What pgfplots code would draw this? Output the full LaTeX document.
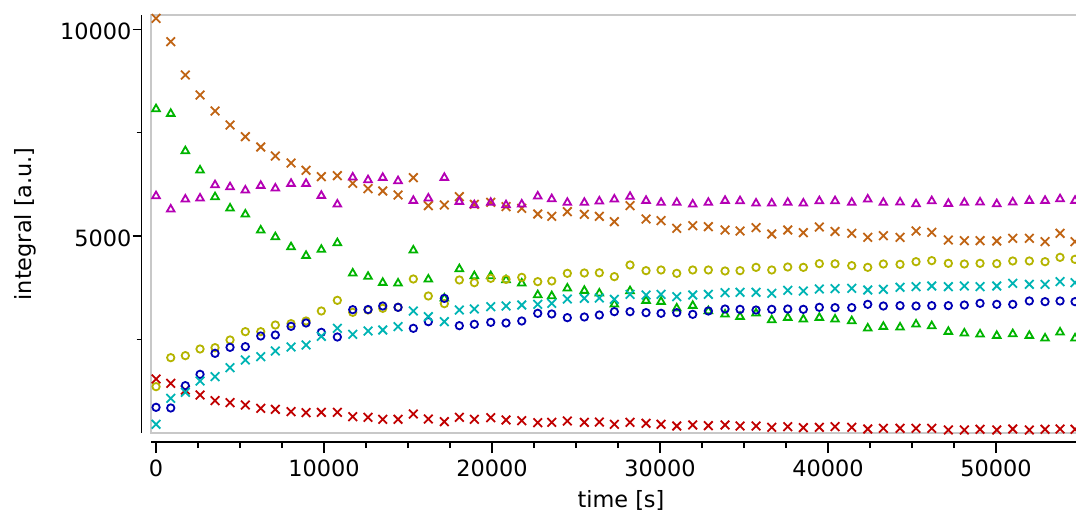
\documentclass[border=0pt]{standalone}
\usepackage{fontspec}
\setmainfont{DejaVu Sans}
\usepackage{pgfplots}
\usepackage{pgfplotstable}
\pgfplotsset{compat=1.18}

\definecolor{cred}{HTML}{C00000}
\definecolor{corange}{HTML}{C06414}
\definecolor{cmag}{HTML}{B400B4}
\definecolor{cgreen}{HTML}{00B400}
\definecolor{cyel}{HTML}{B4B400}
\definecolor{cblue}{HTML}{0000B4}
\definecolor{ccyan}{HTML}{00B4B4}
\definecolor{frame}{HTML}{C8C8C8}

% t [s] and the six integrals
\pgfplotstableread{
t     r    o     m    g    y    b    c
0     1541 10265 5968 8072 1356 856  445
875   1436 9701  5645 7959 2057 840  1074
1744  1275 8895  5887 7056 2106 1380 1219
2619  1154 8411  5911 6589 2267 1654 1493
3512  1017 8024  6234 5944 2299 2162 1598
4405  969  7685  6185 5669 2485 2307 1815
5315  912  7403  6105 5524 2686 2323 2001
6232  832  7153  6218 5137 2686 2581 2081
7101  807  6935  6153 4976 2847 2606 2218
8036  751  6766  6266 4734 2880 2815 2315
8929  727  6589  6266 4524 2944 2896 2364
9839  735  6435  5976 4670 3186 2670 2573
10792 735  6460  5766 4831 3444 2557 2767
11708 630  6274  6419 4097 3154 3218 2622
12619 614  6145  6355 4017 3210 3222 2702
13494 566  6089  6411 3871 3251 3307 2726
14405 566  5992  6331 3855 3275 3275 2807
15315 695  6411  5855 4654 3960 2767 3186
16208 574  5734  5911 3952 3549 2928 3049
17161 509  5750  6411 3492 3363 3492 2928
18054 614  5952  5831 4202 3936 2831 3210
18946 566  5766  5750 4033 3871 2864 3234
19923 606  5815  5807 4033 3976 2912 3291
20833 550  5710  5750 3936 3952 2896 3307
21768 533  5669  5766 3855 4000 2944 3331
22720 485  5532  5960 3573 3896 3130 3347
23554 493  5476  5895 3549 3912 3114 3372
24482 525  5589  5807 3734 4097 3025 3476
25494 493  5524  5807 3678 4105 3041 3492
26387 500  5476  5840 3613 4110 3089 3500
27280 445  5347  5887 3347 4017 3170 3468
28214 493  5734  5952 3670 4299 3170 3589
29167 469  5411  5855 3436 4162 3146 3573
30060 445  5371  5807 3412 4178 3130 3589
30994 404  5186  5807 3251 4097 3146 3533
31946 429  5250  5766 3315 4178 3105 3573
32875 412  5226  5807 3186 4178 3186 3589
33869 429  5145  5855 3105 4154 3234 3630
34762 404  5121  5847 3049 4162 3226 3638
35714 404  5202  5790 3130 4242 3210 3638
36649 372  5049  5790 2968 4178 3226 3613
37601 388  5145  5807 3025 4250 3234 3686
38530 364  5081  5790 2984 4242 3226 3670
39482 372  5218  5847 3025 4331 3275 3718
40417 388  5110  5847 2984 4327 3267 3726
41411 372  5065  5807 2944 4283 3267 3734
42363 332  4968  5887 2767 4242 3347 3694
43292 348  5008  5807 2807 4323 3307 3710
44286 348  4968  5815 2791 4315 3315 3759
45238 348  5121  5774 2864 4379 3307 3775
46173 348  5089  5847 2823 4404 3315 3791
47161 308  4903  5782 2686 4339 3315 3775
48113 308  4887  5807 2646 4323 3331 3791
49048 324  4887  5815 2622 4339 3372 3775
50042 308  4879  5774 2589 4331 3347 3791
50994 332  4944  5815 2630 4396 3347 3855
51982 308  4944  5855 2589 4396 3428 3831
52917 324  4863  5855 2525 4379 3412 3831
53810 332  5065  5895 2670 4484 3428 3896
54702 324  4863  5855 2525 4436 3412 3871
}\data

\tikzset{lbl/.style={font=\fontsize{11.2}{13}\selectfont}}
\pgfplotsset{
  common/.style={scale only axis,width=469.98pt,height=208.85pt,
    xmin=-300,xmax=55650,ymin=242,ymax=10346,anchor=south west},
}

\begin{document}
\begin{tikzpicture}
% data with the grey frame
\begin{axis}[common,at={(75.5pt,41.15pt)},
    axis line style={frame,line width=1pt},
    xtick=\empty,ytick=\empty,clip=false,
    every axis plot/.append style={only marks,line width=0.9pt}]
  \addplot[cred,mark=x,mark size=3.05pt] table[x=t,y=r] {\data};
  \addplot[corange,mark=x,mark size=3.05pt] table[x=t,y=o] {\data};
  \addplot[cmag,mark=triangle,mark size=2.2pt] table[x=t,y=m] {\data};
  \addplot[cgreen,mark=triangle,mark size=2.2pt] table[x=t,y=g] {\data};
  \addplot[cyel,mark=o,mark size=1.85pt] table[x=t,y=y] {\data};
  \addplot[cblue,mark=o,mark size=1.85pt] table[x=t,y=b] {\data};
  \addplot[ccyan,mark=x,mark size=3.05pt] table[x=t,y=c] {\data};
\end{axis}
% offset x axis
\begin{axis}[common,at={(75.5pt,36.5pt)},
    axis x line*=bottom,hide y axis,
    axis line style={black,line width=0.8pt,-},
    xtick={0,10000,...,50000},minor x tick num=3,
    tick align=outside,major tick length=5.5pt,minor tick length=3pt,
    tick style={black,line width=0.8pt},
    scaled x ticks=false,
    xticklabel style={lbl,/pgf/number format/assume math mode=true,
      /pgf/number format/set thousands separator={}},
    xlabel={time [s]},
    xlabel style={lbl,at={(axis description cs:0.5,0)},anchor=center,yshift=-29pt}]
\end{axis}
% offset y axis
\begin{axis}[common,at={(70.75pt,41.15pt)},
    axis y line*=left,hide x axis,
    axis line style={black,line width=0.8pt,-},
    ytick={5000,10000},minor ytick={2500,7500},
    tick align=outside,major tick length=4.5pt,minor tick length=2.5pt,
    tick style={black,line width=0.8pt},
    scaled y ticks=false,
    yticklabel style={lbl,xshift=3pt,yshift=-1pt,
      /pgf/number format/assume math mode=true,
      /pgf/number format/set thousands separator={}},
    ylabel={integral [a.u.]},
    ylabel style={lbl,at={(axis description cs:0,0.5)},anchor=center,yshift=58.25pt}]
\end{axis}
\pgfresetboundingbox
\path (0,0) rectangle (538pt,257.5pt);
\end{tikzpicture}
\end{document}
